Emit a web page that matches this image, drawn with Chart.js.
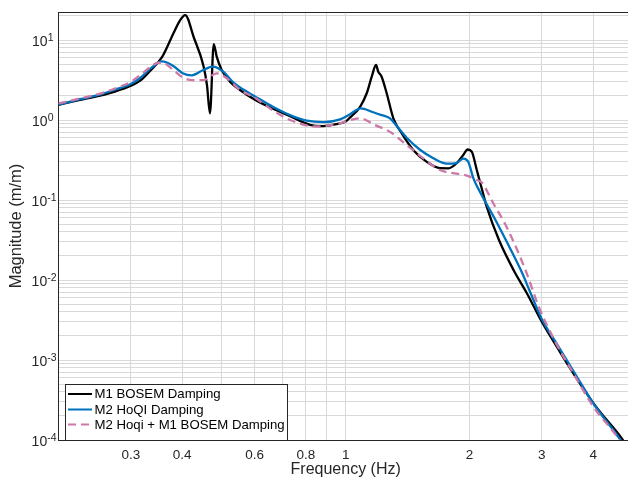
<!DOCTYPE html>
<html><head><meta charset="utf-8">
<script src="https://cdn.jsdelivr.net/npm/chart.js@4/dist/chart.umd.min.js"></script>
<style>html,body{margin:0;padding:0;background:#fff;overflow:hidden;} #wrap{width:640px;height:481px;}</style>
</head><body><div id="wrap"><canvas id="c" width="640" height="481"></canvas></div>
<script>
// ---- data ----
const seriesNames = ['M1 BOSEM Damping', 'M2 HoQI Damping', 'M2 Hoqi + M1 BOSEM Damping'];

const freqM1 = [0.2,0.2257,0.2525,0.2747,0.3,0.3174,0.334,0.358,0.3806,0.395,0.4069,0.4275,0.4502,0.4597,0.4675,0.4775,0.4855,0.4992,0.5229,0.5533,0.6,0.667,0.732,0.8187,0.882,0.951,1.0,1.024,1.083,1.125,1.157,1.185,1.2,1.223,1.258,1.306,1.369,1.461,1.575,1.696,1.777,1.862,1.932,1.979,2.026,2.084,2.142,2.203,2.36,2.568,2.757,2.999,3.262,3.579,4.064,4.694,4.8];
const magM1  = [1.55,1.78,2.02,2.27,2.68,3.16,4.1,6.2,12.0,17.5,20.5,10.6,4.87,2.74,1.21,8.9,6.2,4.22,3.01,2.37,1.80,1.37,1.12,0.87,0.84,0.89,0.96,1.07,1.45,2.16,3.48,4.87,4.02,3.48,2.16,1.05,0.68,0.42,0.30,0.25,0.249,0.288,0.365,0.428,0.402,0.237,0.14,0.0825,0.0316,0.01296,0.00688,0.00301,0.00147,6.82e-4,2.61e-4,1.05e-4,8.8e-5];

const freqM2 = [0.2,0.2257,0.2525,0.2747,0.3,0.3174,0.334,0.358,0.3806,0.4012,0.422,0.4502,0.4746,0.5037,0.5327,0.5533,0.599,0.6665,0.732,0.804,0.882,0.969,1.024,1.088,1.167,1.223,1.282,1.331,1.407,1.516,1.634,1.761,1.862,1.932,1.988,2.044,2.122,2.188,2.30,2.465,2.696,2.797,2.999,3.218,3.593,4.027,4.631,4.75];
const magM2  = [1.56,1.82,2.08,2.40,2.82,3.40,4.35,5.4,4.73,3.85,3.62,4.22,4.64,4.02,2.95,2.55,2.0,1.45,1.15,0.98,0.94,1.02,1.18,1.40,1.25,1.15,1.05,0.84,0.60,0.425,0.333,0.285,0.29,0.33,0.299,0.188,0.126,0.0944,0.0596,0.030,0.0118,0.0075,0.00326,0.00178,7.08e-4,2.74e-4,1.05e-4,8.6e-5];

const freqCombo = [0.2,0.2257,0.2525,0.2747,0.3,0.3174,0.334,0.3495,0.358,0.3806,0.4012,0.422,0.4502,0.4855,0.517,0.5533,0.599,0.6665,0.732,0.85,0.951,1.083,1.178,1.289,1.407,1.545,1.696,1.862,1.970,2.084,2.146,2.286,2.428,2.582,2.757,2.949,3.218,3.579,4.004,4.597,4.7];
const magCombo  = [1.61,1.86,2.14,2.48,3.0,3.7,4.55,5.2,5.2,4.22,3.42,3.16,3.16,3.83,3.25,2.37,1.92,1.31,1.0,0.83,0.89,1.05,0.866,0.698,0.487,0.332,0.237,0.213,0.202,0.178,0.164,0.091,0.0531,0.0274,0.0121,0.00464,0.00178,6.82e-4,2.61e-4,1.05e-4,8.6e-5];

const xGridValues = [0.2,0.3,0.4,0.5,0.6,0.7,0.8,0.9,1,2,3,4,5];
const xTickLabels = [0.3,0.4,0.6,0.8,1,2,3,4];
const yDecadeExps = [-4,-3,-2,-1,0,1];
const xMin = 0.2, xMax = 5, yMin = 1e-4, yMax = 22.4;

// ---- styling / layout ----
const FONT = '"Liberation Sans", Arial, Helvetica, sans-serif';
const AXIS_COLOR = '#262626';
const GRID_COLOR = '#d9d9d9';
const yGridValues = [];
yDecadeExps.forEach(e => { for (let d = 1; d <= 9; d++) { const v = d * Math.pow(10, e); if (v <= yMax * 1.0001) yGridValues.push(v); } });

const toPts = (fs, ms) => fs.map((f, i) => ({x: f, y: ms[i]}));

const frame = {
  id: 'frame',
  afterDatasetsDraw(chart) {
    const {ctx, chartArea: a} = chart;
    ctx.save();
    ctx.strokeStyle = AXIS_COLOR; ctx.lineWidth = 1;
    ctx.beginPath();
    ctx.moveTo(a.left, Math.round(a.top) + 0.5); ctx.lineTo(a.right, Math.round(a.top) + 0.5);
    ctx.stroke();
    ctx.restore();
  }
};

const yLabels = {
  id: 'yLabels',
  afterDraw(chart) {
    const {ctx} = chart; const ys = chart.scales.y;
    const base = '14px ' + FONT, sup = '10.5px ' + FONT;
    ctx.save(); ctx.fillStyle = AXIS_COLOR; ctx.textBaseline = 'alphabetic'; ctx.textAlign = 'left';
    yDecadeExps.forEach(e => {
      const y = ys.getPixelForValue(Math.pow(10, e));
      const ex = String(e);
      ctx.font = sup; const wE = ctx.measureText(ex).width;
      ctx.font = base; const wB = ctx.measureText('10').width;
      const right = e < 0 ? 56.5 : 53.5;
      ctx.fillText('10', right - wE - wB, y + 6);
      ctx.font = sup; ctx.fillText(ex, right - wE, y + 0.5);
    });
    ctx.restore();
  }
};

const legendBox = {
  id: 'legendBox',
  afterDraw(chart) {
    const {ctx} = chart;
    const x0 = 65.5, y0 = 384.5, w = 222, h = 56;
    ctx.save();
    ctx.fillStyle = '#fff'; ctx.fillRect(x0, y0, w, h);
    ctx.strokeStyle = AXIS_COLOR; ctx.lineWidth = 1; ctx.strokeRect(x0, y0, w, h);
    const rows = [394, 409.5, 424.5];
    chart.data.datasets.forEach((ds, i) => {
      const y = rows[i];
      ctx.strokeStyle = ds.borderColor; ctx.lineWidth = 2;
      ctx.setLineDash(ds.borderDash || []);
      ctx.beginPath(); ctx.moveTo(68, y); ctx.lineTo(92, y); ctx.stroke();
      ctx.setLineDash([]);
      ctx.fillStyle = '#000'; ctx.font = '13.2px ' + FONT; ctx.textBaseline = 'middle'; ctx.textAlign = 'left';
      ctx.fillText(ds.label, 94.5, y + 0.5);
    });
    ctx.restore();
  }
};

new Chart(document.getElementById('c'), {
  type: 'line',
  data: {
    datasets: [
      {label: seriesNames[0], data: toPts(freqM1, magM1), borderColor: '#000000', borderWidth: 2.3, pointRadius: 0, cubicInterpolationMode: 'monotone', fill: false, order: 3},
      {label: seriesNames[1], data: toPts(freqM2, magM2), borderColor: '#0072BD', borderWidth: 2.3, pointRadius: 0, cubicInterpolationMode: 'monotone', fill: false, order: 2},
      {label: seriesNames[2], data: toPts(freqCombo, magCombo), borderColor: '#CC79A7', borderWidth: 2.3, borderDash: [8, 5], pointRadius: 0, cubicInterpolationMode: 'monotone', fill: false, order: 1}
    ]
  },
  options: {
    responsive: false, animation: false, events: [],
    layout: {padding: {left: 0, right: 7, top: 12, bottom: 0}},
    plugins: {legend: {display: false}, tooltip: {enabled: false}},
    scales: {
      x: {
        type: 'logarithmic', min: xMin, max: xMax, position: 'bottom',
        afterBuildTicks: s => { s.ticks = xGridValues.map(v => ({value: v})); },
        afterFit: s => { s.height = 41; },
        grid: {color: GRID_COLOR, lineWidth: 1, drawTicks: false},
        border: {display: true, color: AXIS_COLOR, width: 1},
        ticks: {autoSkip: false, maxRotation: 0, minRotation: 0, padding: 7, color: AXIS_COLOR,
                font: {family: FONT, size: 13.5},
                callback: v => xTickLabels.includes(v) ? String(v) : ''},
        title: {display: true, text: 'Frequency (Hz)', color: AXIS_COLOR, font: {family: FONT, size: 16}, padding: {top: 0, bottom: 2}}
      },
      y: {
        type: 'logarithmic', min: yMin, max: yMax, position: 'left',
        afterBuildTicks: s => { s.ticks = yGridValues.map(v => ({value: v})); },
        afterFit: s => { s.width = 58.4; },
        grid: {color: GRID_COLOR, lineWidth: 1, drawTicks: false},
        border: {display: true, color: AXIS_COLOR, width: 1},
        ticks: {display: false},
        title: {display: true, text: 'Magnitude (m/m)', color: AXIS_COLOR, font: {family: FONT, size: 16.5}, padding: {top: 7, bottom: 0}}
      }
    }
  },
  plugins: [frame, yLabels, legendBox]
});
</script></body></html>
